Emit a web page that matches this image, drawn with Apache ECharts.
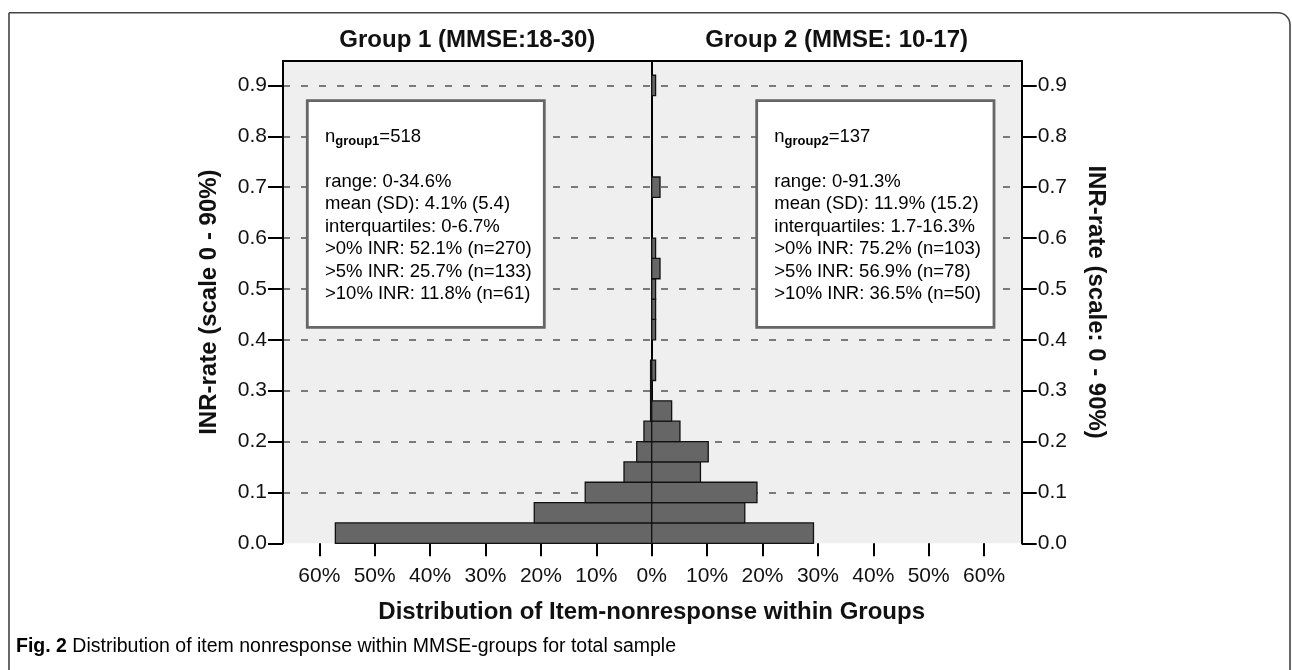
<!DOCTYPE html>
<html>
<head>
<meta charset="utf-8">
<script src="https://cdn.jsdelivr.net/npm/echarts@6/dist/echarts.min.js"></script>
<style>
html,body{margin:0;padding:0;background:#fff;}
#chart{width:1292px;height:670px;}
</style>
</head>
<body>
<div id="chart"></div>
<script>
// ---- data ----
const binStarts = [0.00,0.04,0.08,0.12,0.16,0.20,0.24,0.28,0.32,0.36,0.40,0.44,0.48,0.52,0.56,0.60,0.64,0.68,0.72,0.76,0.80,0.84,0.88];
const binWidth = 0.04;
// percent of group members per INR-rate bin
const group1Pct = [57.1,21.2,12.0,5.0,2.7,1.4,0.2,0.2,0.2,0,0,0,0,0,0,0,0,0,0,0,0,0,0];
const group2Pct = [29.2,16.8,19.0,8.8,10.2,5.1,3.6,0,0.7,0,0.7,0.7,0.7,1.5,0.7,0,0,1.5,0,0,0,0,0.7];
const groupTitles = ['Group 1 (MMSE:18-30)', 'Group 2 (MMSE: 10-17)'];
const yTicks = [0,0.1,0.2,0.3,0.4,0.5,0.6,0.7,0.8,0.9];
const xTickMax = 60;
const xTitle = 'Distribution of Item-nonresponse within Groups';
const yTitleLeft = 'INR-rate (scale 0 - 90%)';
const yTitleRight = 'INR-rate (scale: 0 - 90%)';
const box1N = ['group1', '=518'];
const box2N = ['group2', '=137'];
const box1Lines = ['range: 0-34.6%','mean (SD): 4.1% (5.4)','interquartiles: 0-6.7%','>0% INR: 52.1% (n=270)','>5% INR: 25.7% (n=133)','>10% INR: 11.8% (n=61)'];
const box2Lines = ['range: 0-91.3%','mean (SD): 11.9% (15.2)','interquartiles: 1.7-16.3%','>0% INR: 75.2% (n=103)','>5% INR: 56.9% (n=78)','>10% INR: 36.5% (n=50)'];
const captionBold = 'Fig. 2';
const captionText = ' Distribution of item nonresponse within MMSE-groups for total sample';

// ---- layout ----
const FONT = "'Liberation Sans', Arial, sans-serif";
const plotLeft = 283, plotRight = 1021.7, plotTop = 61, plotBottom = 543.3;
const zeroX = 651.7, halfW = 332.4;
const yMaxFrame = 0.948;
const plotH = plotBottom - plotTop;
const yPix = v => plotBottom - v / yMaxFrame * plotH;
const yTop = yTicks[yTicks.length-1];
const y09 = yPix(yTop);
const y01 = yPix(yTicks[1]);

function binData(pcts){
  const out = [];
  pcts.forEach((v,i)=>{ if(v>0) out.push([binStarts[i], binStarts[i]+binWidth, v]); });
  return out;
}

function renderBar(params, api){
  const lo = api.value(0), hi = api.value(1), v = api.value(2);
  const p0 = api.coord([0, lo]);
  const p1 = api.coord([v, hi]);
  return {
    type: 'rect',
    shape: {x: Math.min(p0[0], p1[0]), y: p1[1], width: Math.abs(p1[0]-p0[0]), height: p0[1]-p1[1]},
    style: {fill: '#666666', stroke: '#111', lineWidth: 1.3}
  };
}

const blackLine = {show:true, onZero: false, lineStyle:{color:'#000', width:2}};

function boxText(n, lines){
  return '{n|n}{sub|' + n[0] + '}{n|' + n[1] + '}\n{t| }\n' + lines.map(l=>'{t|'+l+'}').join('\n');
}
const richStyle = {
  n: {fontSize: 18.5, fontFamily: FONT, color: '#222', lineHeight: 22.5},
  sub: {fontSize: 13, fontWeight: 'bold', fontFamily: FONT, color: '#222', lineHeight: 8, verticalAlign: 'bottom'},
  t: {fontSize: 18.5, fontFamily: FONT, color: '#222', lineHeight: 22.5}
};
const titleStyle = {fontSize: 24, fontWeight: 'bold', fontFamily: FONT, color: '#111'};

const chart = echarts.init(document.getElementById('chart'), null, {renderer: 'canvas'});
chart.setOption({
  animation: false,
  backgroundColor: '#ffffff',
  grid: [
    {left: plotLeft, top: plotTop, width: plotRight-plotLeft, height: plotH, show: true, backgroundColor: '#efefef', borderWidth: 0, z: -1},
    {left: plotLeft, top: y09, width: plotRight-plotLeft, height: plotBottom - y09, show: false},
    {left: zeroX - halfW, top: plotTop, width: halfW, height: plotH, show: false},
    {left: zeroX, top: plotTop, width: halfW, height: plotH, show: false},
    {left: plotLeft, top: y09, width: plotRight-plotLeft, height: y01 - y09, show: false}
  ],
  xAxis: [
    {gridIndex: 0, type: 'value', min: 0, max: 1, position: 'top', axisLine: blackLine, axisTick: {show:false}, axisLabel: {show:false}, splitLine: {show:false}},
    {gridIndex: 1, type: 'value', min: 0, max: 1, show: false},
    {gridIndex: 2, type: 'value', min: 0, max: xTickMax, interval: 10, inverse: true, position: 'bottom',
      axisLine: {show:false, onZero: false}, axisTick: {show:true, length: 13, lineStyle: {color:'#000', width: 2}},
      axisLabel: {margin: 22, fontSize: 21, fontFamily: FONT, color: '#111', formatter: v => v === 0 ? '' : v + '%'},
      splitLine: {show:false}},
    {gridIndex: 3, type: 'value', min: 0, max: xTickMax, interval: 10, position: 'bottom',
      axisLine: {show:false, onZero: false}, axisTick: {show:true, length: 13, lineStyle: {color:'#000', width: 2}},
      axisLabel: {margin: 22, fontSize: 21, fontFamily: FONT, color: '#111', formatter: v => v + '%'},
      splitLine: {show:false}},
    {gridIndex: 4, type: 'value', min: 0, max: 1, show: false}
  ],
  yAxis: [
    {gridIndex: 0, type: 'value', min: 0, max: 1, position: 'left', axisLine: blackLine, axisTick: {show:false}, axisLabel: {show:false}, splitLine: {show:false},
      name: yTitleLeft, nameLocation: 'middle', nameGap: 62, nameTextStyle: titleStyle},
    {gridIndex: 0, type: 'value', min: 0, max: 1, position: 'right', axisLine: blackLine, axisTick: {show:false}, axisLabel: {show:false}, splitLine: {show:false},
      name: yTitleRight, nameLocation: 'middle', nameGap: 62, nameRotate: -90, nameTextStyle: titleStyle},
    {gridIndex: 1, type: 'value', min: yTicks[0], max: yTop, interval: 0.1, position: 'left',
      axisLine: {show:false, onZero: false}, axisTick: {show:true, length: 15, lineStyle: {color:'#000', width: 2}},
      axisLabel: {margin: 16, fontSize: 21, fontFamily: FONT, color: '#111', formatter: v => v.toFixed(1)},
      splitLine: {show: false}},
    {gridIndex: 1, type: 'value', min: yTicks[0], max: yTop, interval: 0.1, position: 'right',
      axisLine: {show:false, onZero: false}, axisTick: {show:true, length: 15, lineStyle: {color:'#000', width: 2}},
      axisLabel: {margin: 16, fontSize: 21, fontFamily: FONT, color: '#111', formatter: v => v.toFixed(1)},
      splitLine: {show:false}},
    {gridIndex: 2, type: 'value', min: 0, max: yMaxFrame, show: false},
    {gridIndex: 3, type: 'value', min: 0, max: yMaxFrame, position: 'left', axisLine: blackLine, axisTick: {show:false}, axisLabel: {show:false}, splitLine: {show:false}},
    {gridIndex: 4, type: 'value', min: yTicks[1], max: yTop, interval: 0.1, position: 'left',
      axisLine: {show:false, onZero: false}, axisTick: {show:false}, axisLabel: {show:false},
      splitLine: {show: true, lineStyle: {color: '#7a7a7a', width: 2, type: [7, 11]}}}
  ],
  series: [
    {type: 'custom', name: groupTitles[0], xAxisIndex: 2, yAxisIndex: 4, renderItem: renderBar, data: binData(group1Pct), encode: {x: 2, y: [0, 1]}, z: 3},
    {type: 'custom', name: groupTitles[1], xAxisIndex: 3, yAxisIndex: 5, renderItem: renderBar, data: binData(group2Pct), encode: {x: 2, y: [0, 1]}, z: 3}
  ],
  graphic: [
    {type: 'rect', z: -10, shape: {x: 9, y: 12.7, width: 1281, height: 700, r: [0, 12, 0, 0]}, style: {fill: 'none', stroke: '#444', lineWidth: 1.6}},
    {type: 'text', z: 10, x: (plotLeft + zeroX)/2, y: 40, style: {text: groupTitles[0], font: "bold 24px " + FONT, fill: '#111', textAlign: 'center', textVerticalAlign: 'middle'}},
    {type: 'text', z: 10, x: (zeroX + plotRight)/2, y: 40, style: {text: groupTitles[1], font: "bold 24px " + FONT, fill: '#111', textAlign: 'center', textVerticalAlign: 'middle'}},
    {type: 'rect', z: 10, shape: {x: 307.3, y: 100.7, width: 237, height: 226.6}, style: {fill: '#fff', stroke: '#666', lineWidth: 2.8}},
    {type: 'rect', z: 10, shape: {x: 756.7, y: 100.7, width: 237.3, height: 226.6}, style: {fill: '#fff', stroke: '#666', lineWidth: 2.8}},
    {type: 'text', z: 11, x: 325, y: 125.5, style: {text: boxText(box1N, box1Lines), rich: richStyle, textAlign: 'left', textVerticalAlign: 'top'}},
    {type: 'text', z: 11, x: 774.3, y: 125.5, style: {text: boxText(box2N, box2Lines), rich: richStyle, textAlign: 'left', textVerticalAlign: 'top'}},
    {type: 'text', z: 10, x: zeroX, y: 612, style: {text: xTitle, font: "bold 24px " + FONT, fill: '#111', textAlign: 'center', textVerticalAlign: 'middle'}},
    {type: 'text', z: 10, x: 16, y: 647, style: {text: '{b|' + captionBold + '}{r|' + captionText + '}', textVerticalAlign: 'middle',
      rich: {b: {fontSize: 19.5, fontWeight: 'bold', fontFamily: FONT, color: '#222'}, r: {fontSize: 19.5, fontFamily: FONT, color: '#222'}}}}
  ]
});
</script>
</body>
</html>
